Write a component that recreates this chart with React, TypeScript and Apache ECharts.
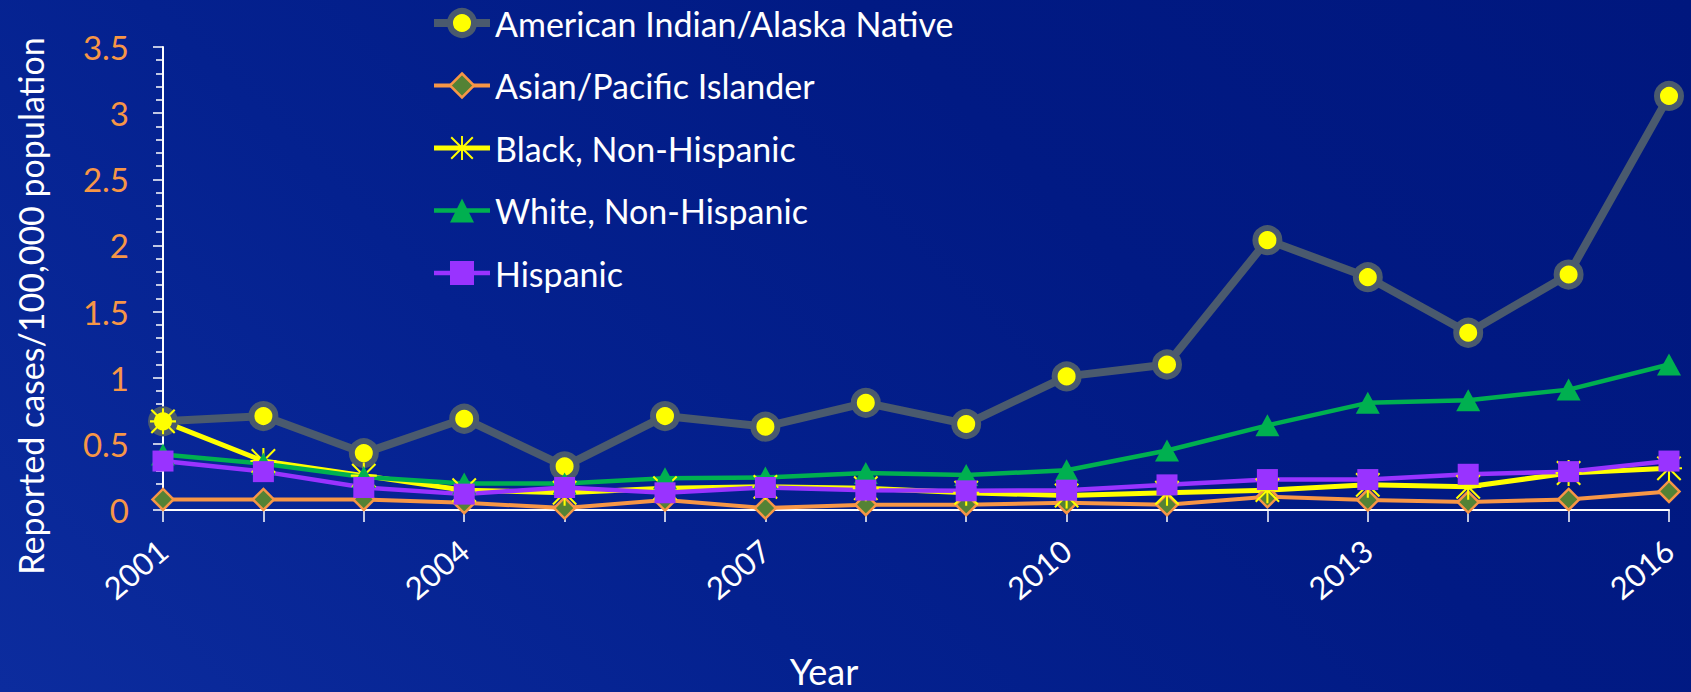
import React, { useEffect, useRef } from "react";
import * as echarts from "echarts";

const years = ["2001","2002","2003","2004","2005","2006","2007","2008","2009","2010","2011","2012","2013","2014","2015","2016"];
const aian = [0.67, 0.71, 0.43, 0.69, 0.33, 0.71, 0.63, 0.81, 0.65, 1.01, 1.1, 2.04, 1.76, 1.34, 1.78, 3.13];
const asian = [0.08, 0.08, 0.08, 0.055, 0.015, 0.075, 0.015, 0.04, 0.04, 0.055, 0.04, 0.1, 0.075, 0.06, 0.08, 0.14];
const black = [0.67, 0.37, 0.26, 0.15, 0.13, 0.165, 0.175, 0.165, 0.13, 0.11, 0.13, 0.15, 0.19, 0.175, 0.28, 0.315];
const white = [0.42, 0.35, 0.25, 0.2, 0.2, 0.24, 0.245, 0.28, 0.265, 0.3, 0.45, 0.64, 0.81, 0.83, 0.91, 1.1];
const hispanic = [0.37, 0.29, 0.17, 0.12, 0.17, 0.13, 0.17, 0.15, 0.145, 0.15, 0.19, 0.23, 0.23, 0.27, 0.29, 0.37];

const seriesNames = [
  "American Indian/Alaska Native",
  "Asian/Pacific Islander",
  "Black, Non-Hispanic",
  "White, Non-Hispanic",
  "Hispanic",
];

const FONT = "Lato, 'Noto Sans', sans-serif";

const asterisk =
  "path://M46 0L54 0L54 100L46 100Z M0 46L100 46L100 54L0 54Z " +
  "M7.83 2.17L97.83 92.17L92.17 97.83L2.17 7.83Z " +
  "M97.83 7.83L7.83 97.83L2.17 92.17L92.17 2.17Z";

export default function App() {
  const ref = useRef<HTMLDivElement>(null);
  useEffect(() => {
    if (!ref.current) return;
    const chart = echarts.init(ref.current, undefined, { renderer: "svg" });
    chart.setOption({
      animation: false,
      textStyle: { fontFamily: FONT },
      grid: { left: 163, top: 47, right: 22, bottom: 182, containLabel: false },
      legend: {
        orient: "vertical",
        left: 430,
        top: 5,
        padding: 0,
        itemWidth: 56,
        itemHeight: 30,
        itemGap: 26.5,
        data: [
          { name: seriesNames[0], lineStyle: { width: 8, color: "#4A5A6E" }, itemStyle: { color: "#FFFF00", borderColor: "#4A5A6E", borderWidth: 6 } },
          { name: seriesNames[1], lineStyle: { width: 4, color: "#F79646" }, itemStyle: { color: "#548235", borderColor: "#F79646", borderWidth: 2.5 } },
          { name: seriesNames[2], lineStyle: { width: 5, color: "#FFFF00" }, itemStyle: { color: "#FFFF00", borderWidth: 0 } },
          { name: seriesNames[3], lineStyle: { width: 4.5, color: "#00B050" }, itemStyle: { color: "#00B050", borderWidth: 0 } },
          { name: seriesNames[4], lineStyle: { width: 4.5, color: "#9933FF" }, itemStyle: { color: "#9933FF", borderWidth: 0 } },
        ],
        textStyle: { color: "#ffffff", fontSize: 34, lineHeight: 36, fontFamily: FONT },
      },
      xAxis: {
        type: "category",
        data: years,
        boundaryGap: false,
        axisLine: { show: true, lineStyle: { color: "#ffffff", width: 2 } },
        axisTick: { show: true, interval: 0, length: 12, lineStyle: { color: "#ffffff", width: 1.5 } },
        axisLabel: { interval: 2, rotate: 40, color: "#ffffff", fontSize: 31, margin: 36, fontFamily: FONT },
        splitLine: { show: false },
      },
      yAxis: {
        type: "value",
        min: 0,
        max: 3.5,
        interval: 0.5,
        axisLine: { show: true, lineStyle: { color: "#ffffff", width: 2 } },
        axisTick: { show: true, length: 10, lineStyle: { color: "#ffffff", width: 1.5 } },
        minorTick: { show: true, splitNumber: 5, length: 7, lineStyle: { color: "#ffffff", width: 1.5 } },
        axisLabel: { color: "#F79646", fontSize: 33, margin: 34, fontFamily: FONT },
        splitLine: { show: false },
        minorSplitLine: { show: false },
      },
      graphic: [
        {
          type: "text",
          x: 30,
          y: 306,
          rotation: Math.PI / 2,
          style: {
            text: "Reported cases/100,000 population",
            fill: "#ffffff",
            font: `34px ${FONT}`,
            align: "center",
            verticalAlign: "middle",
          },
        },
        {
          type: "text",
          x: 824,
          y: 671,
          style: {
            text: "Year",
            fill: "#ffffff",
            font: `36px ${FONT}`,
            lineHeight: 36,
            align: "center",
            verticalAlign: "middle",
          },
        },
      ],
      series: [
        {
          name: seriesNames[0],
          type: "line",
          data: aian,
          symbol: "circle",
          symbolSize: 24,
          lineStyle: { color: "#4A5A6E", width: 8 },
          itemStyle: { color: "#FFFF00", borderColor: "#4A5A6E", borderWidth: 6 },
        },
        {
          name: seriesNames[1],
          type: "line",
          data: asian,
          symbol: "diamond",
          symbolSize: 21,
          lineStyle: { color: "#F79646", width: 4 },
          itemStyle: { color: "#548235", borderColor: "#F79646", borderWidth: 2.5 },
        },
        {
          name: seriesNames[2],
          type: "line",
          data: black,
          symbol: asterisk,
          symbolSize: 26,
          lineStyle: { color: "#FFFF00", width: 5 },
          itemStyle: { color: "#FFFF00" },
        },
        {
          name: seriesNames[3],
          type: "line",
          data: white,
          symbol: "triangle",
          symbolSize: [24, 22],
          lineStyle: { color: "#00B050", width: 4.5 },
          itemStyle: { color: "#00B050" },
        },
        {
          name: seriesNames[4],
          type: "line",
          data: hispanic,
          symbol: "rect",
          symbolSize: 21,
          lineStyle: { color: "#9933FF", width: 4.5 },
          itemStyle: { color: "#9933FF" },
        },
      ],
    });
    return () => chart.dispose();
  }, []);
  return (
    <div
      ref={ref}
      style={{
        position: "fixed",
        left: 0,
        top: 0,
        width: 1691,
        height: 692,
        background: "linear-gradient(45deg, #0c2c9e 0%, #04218f 35%, #011a84 65%, #00177e 100%)",
      }}
    />
  );
}
